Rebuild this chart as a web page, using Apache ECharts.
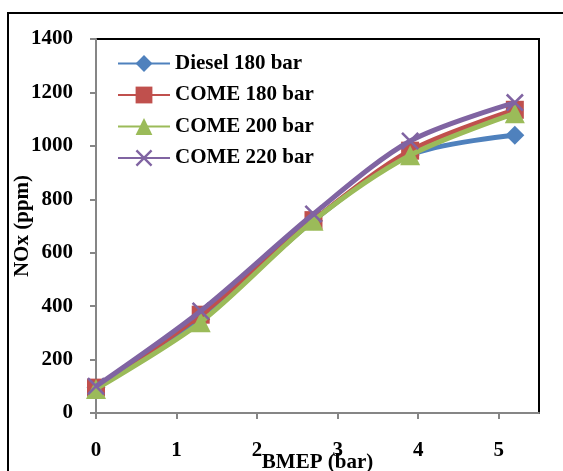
<!DOCTYPE html>
<html>
<head>
<meta charset="utf-8">
<script src="https://cdn.jsdelivr.net/npm/echarts@6/dist/echarts.min.js"></script>
<style>
  html, body { margin: 0; padding: 0; background: #fff; }
  #chart { width: 563px; height: 471px; }
</style>
</head>
<body>
<div id="chart"></div>
<script>
// BMEP (bar) on the x axis
const bmep = [0, 1.3, 2.7, 3.9, 5.2];
// NOx (ppm) for each injection case
const diesel180 = [95, 350, 720, 965, 1040];
const come180 = [95, 368, 722, 982, 1135];
const come200 = [90, 340, 720, 965, 1122];
const come220 = [100, 382, 745, 1018, 1162];

const seriesNames = ['Diesel 180 bar', 'COME 180 bar', 'COME 200 bar', 'COME 220 bar'];
const seriesColors = ['#4F81BD', '#C0504D', '#9BBB59', '#8064A2'];
const seriesData = [diesel180, come180, come200, come220];
const symbols = [
    'diamond',
    'rect',
    'triangle',
    'path://M0,1 L1,0 L10,9 L9,10 Z M9,0 L10,1 L1,10 L0,9 Z'
];
const symbolSizes = [19, 18, 20, 18];

const font = '"Liberation Serif", "Times New Roman", serif';
const labelStyle = { fontFamily: font, fontWeight: 'bold', fontSize: 21, color: '#000' };

const chart = echarts.init(document.getElementById('chart'));

const option = {
    animation: false,
    backgroundColor: '#fff',
    textStyle: { fontFamily: font },
    graphic: [{
        type: 'rect',
        shape: { x: 8, y: 13, width: 620, height: 520 },
        style: { fill: 'none', stroke: '#000', lineWidth: 2 },
        z: -1
    }],
    grid: {
        left: 96,
        right: 24,
        top: 39,
        bottom: 58,
        outerBoundsMode: 'none',
        containLabel: false,
        show: true,
        borderColor: '#000',
        borderWidth: 2
    },
    legend: {
        orient: 'vertical',
        left: 112,
        top: 48,
        itemWidth: 52,
        itemHeight: 21,
        itemGap: 10.5,
        textStyle: Object.assign({}, labelStyle, { lineHeight: 21 }),
        data: seriesNames
    },
    xAxis: {
        type: 'value',
        min: 0,
        max: 5.5,
        interval: 1,
        name: 'BMEP (bar)',
        nameLocation: 'middle',
        nameGap: 39,
        nameMoveOverlap: false,
        nameTextStyle: labelStyle,
        axisLine: { lineStyle: { color: '#868686', width: 2 } },
        axisTick: { show: true, length: 6, lineStyle: { color: '#868686', width: 2 } },
        axisLabel: Object.assign({ margin: 27, showMaxLabel: false }, labelStyle),
        splitLine: { show: false }
    },
    yAxis: {
        type: 'value',
        min: 0,
        max: 1400,
        interval: 200,
        name: 'NOx (ppm)',
        nameLocation: 'middle',
        nameGap: 63,
        nameMoveOverlap: false,
        nameTextStyle: labelStyle,
        axisLine: { show: true, lineStyle: { color: '#868686', width: 2 } },
        axisTick: { show: true, length: 6, lineStyle: { color: '#868686', width: 2 } },
        axisLabel: Object.assign({ margin: 23, formatter: v => String(v) }, labelStyle),
        splitLine: { show: false }
    },
    series: seriesNames.map((name, i) => ({
        name: name,
        type: 'line',
        smooth: 0.3,
        data: bmep.map((x, j) => [x, seriesData[i][j]]),
        symbol: symbols[i],
        symbolSize: symbolSizes[i],
        showAllSymbol: true,
        lineStyle: { color: seriesColors[i], width: 5 },
        itemStyle: { color: seriesColors[i] },
        z: 2 + i
    }))
};

chart.setOption(option);
</script>
</body>
</html>
